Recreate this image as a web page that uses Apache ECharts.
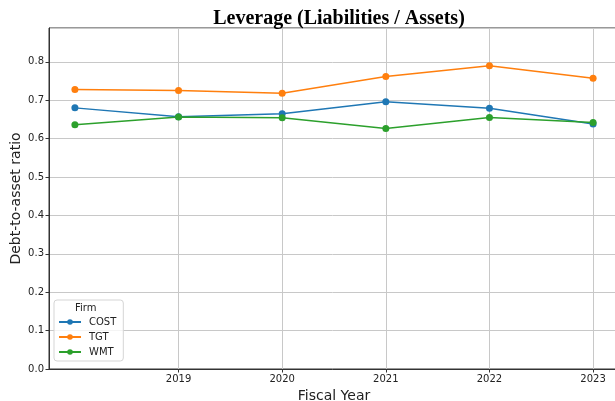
<!DOCTYPE html>
<html style="height: 100%">
<head>
    <meta charset="utf-8">
    <script src="https://cdn.jsdelivr.net/npm/echarts@6/dist/echarts.min.js"></script>
</head>
<body style="height: 100%; margin: 0; background: #fff">
    <div id="container" style="width: 615px; height: 401px"></div>
    <script type="text/javascript">
        var years = [2018, 2019, 2020, 2021, 2022, 2023];
        var tickYears = [2019, 2020, 2021, 2022, 2023];
        var cost = [0.680, 0.657, 0.665, 0.696, 0.679, 0.638];
        var tgt = [0.728, 0.725, 0.718, 0.762, 0.790, 0.757];
        var wmt = [0.636, 0.656, 0.654, 0.626, 0.655, 0.642];
        var firms = ['COST', 'TGT', 'WMT'];
        var colors = ['#1f77b4', '#ff7f0e', '#2ca02c'];

        function pairs(vals) {
            return years.map(function (y, i) { return [y, vals[i]]; });
        }

        var myChart = echarts.init(document.getElementById('container'));
        var font = 'DejaVu Sans';

        function line(name, vals, color) {
            return {
                name: name,
                type: 'line',
                data: pairs(vals),
                symbol: 'circle',
                symbolSize: 7,
                lineStyle: { width: 1.5, color: color },
                itemStyle: { color: color },
                z: 3
            };
        }

        var series = [line(firms[0], cost, colors[0]), line(firms[1], tgt, colors[1]), line(firms[2], wmt, colors[2])];

        option = {
            animation: false,
            backgroundColor: '#fff',
            title: {
                text: 'Leverage (Liabilities / Assets)',
                left: 334,
                textAlign: 'center',
                top: 4,
                textStyle: { fontFamily: 'Liberation Serif', fontWeight: 'bold', fontSize: 20, color: '#000' }
            },
            grid: { left: 49, top: 28, right: -4, bottom: 32, show: true, borderColor: '#333', borderWidth: 1, containLabel: false, outerBoundsMode: 'none' },
            legend: {
                orient: 'vertical',
                left: 54,
                top: 300,
                data: firms,
                itemWidth: 22,
                itemHeight: 7,
                itemGap: 5,
                padding: [17, 7, 4, 4],
                borderColor: '#d5d5d5',
                borderWidth: 1,
                borderRadius: 3,
                backgroundColor: 'rgba(255,255,255,0.8)',
                textStyle: { fontFamily: font, fontSize: 10, color: '#222', padding: [0, 0, 0, 3] }
            },
            graphic: [{
                type: 'text',
                left: 75,
                top: 303,
                style: { text: 'Firm', fontFamily: font, fontSize: 10, fill: '#222' },
                z: 100
            }],
            xAxis: {
                type: 'value',
                min: 2017.75,
                max: 2023.25,
                name: 'Fiscal Year',
                nameLocation: 'middle',
                nameGap: 20,
                nameMoveOverlap: false,
                nameTextStyle: { fontFamily: font, fontSize: 14, color: '#222' },
                axisLine: { show: true, lineStyle: { color: '#333' } },
                axisTick: { show: true, customValues: tickYears, length: 3.5, lineStyle: { color: '#333' } },
                axisLabel: { customValues: tickYears, fontFamily: font, fontSize: 10, color: '#222', margin: 5, formatter: function (v) { return String(v); } },
                splitLine: { show: true, lineStyle: { color: '#c8c8c8', width: 1 } }
            },
            yAxis: {
                type: 'value',
                min: 0,
                max: 0.888,
                interval: 0.1,
                name: 'Debt-to-asset ratio',
                nameLocation: 'middle',
                nameGap: 26,
                nameMoveOverlap: false,
                nameTextStyle: { fontFamily: font, fontSize: 14, color: '#222' },
                axisLine: { show: true, lineStyle: { color: '#333' } },
                axisTick: { show: true, length: 3.5, lineStyle: { color: '#333' } },
                axisLabel: { fontFamily: font, fontSize: 10, color: '#222', margin: 5, showMaxLabel: false, formatter: function (v) { return v.toFixed(1); } },
                splitLine: { show: true, lineStyle: { color: '#c8c8c8', width: 1 } }
            },
            series: series
        };

        myChart.setOption(option);
    </script>
</body>
</html>
